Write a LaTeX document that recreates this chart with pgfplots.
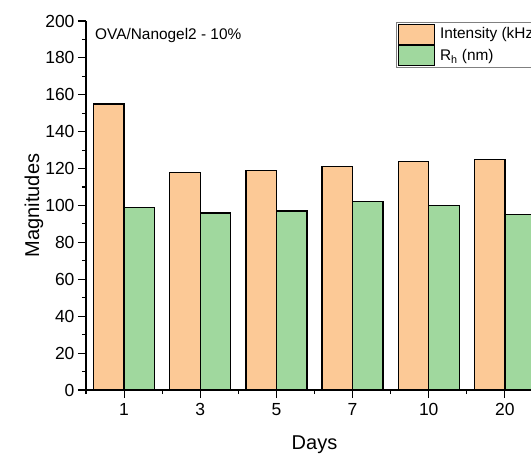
\documentclass[border=0pt]{standalone}
\usepackage{pgfplots}
\pgfplotsset{compat=1.18}
\usepackage{fontspec}
\setmainfont{Liberation Sans}

\definecolor{intensityfill}{RGB}{252,201,150}
\definecolor{rhfill}{RGB}{160,216,158}

\newcommand{\tickfont}{\fontsize{17.5bp}{21bp}\selectfont}
\newcommand{\labelfont}{\fontsize{20bp}{24bp}\selectfont}
\newcommand{\smallfont}{\fontsize{15.4bp}{18bp}\selectfont}

\begin{document}
\begin{tikzpicture}
\begin{axis}[
  name=ax,
  at={(0,0)}, anchor=south west,
  scale only axis,
  width=457bp, height=369bp,
  xmin=-0.5, xmax=5.5,
  ymin=0, ymax=200,
  axis x line*=bottom, axis y line*=left,
  axis line style={-, line width=1.1bp, black},
  xtick={0,1,2,3,4,5},
  xticklabels={1,3,5,7,10,20},
  minor xtick={-0.5,0.5,1.5,2.5,3.5,4.5,5.5},
  ytick={0,20,...,200},
  minor ytick={10,30,...,190},
  tick align=outside,
  major tick length=8bp,
  minor tick length=4bp,
  every tick/.style={black, line width=1.1bp},
  /pgf/number format/assume math mode=true,
  tick label style={font=\tickfont},
  x tick label style={yshift=-2bp},
  xlabel={Days},
  ylabel={Magnitudes},
  label style={font=\labelfont},
  x label style={at={(axis description cs:0.5,-0.1607)}, anchor=base},
  y label style={at={(axis description cs:-0.114,0.5)}, anchor=center},
  legend style={
    at={(rel axis cs:0.679,0.997)}, anchor=north west,
    draw=gray, line width=0.8bp,
    inner xsep=1bp, inner ysep=1bp,
    row sep=0pt,
    font=\smallfont,
    nodes={inner sep=0pt, text height=11.5bp, text depth=0pt},
    /tikz/every odd column/.append style={column sep=5bp},
  },
  legend cell align=left,
  area legend,
  legend image code/.code={
    \draw[#1, line width=1.3bp] (0bp,-11.05bp) rectangle (36bp,8.95bp);
  },
]
% intensity, left bar of each group
\addplot[ybar, bar width=0.4, bar shift=-0.2, fill=intensityfill, draw=black, line width=1.3bp]
  coordinates {(0,155) (1,118) (2,119) (3,121) (4,124) (5,125)};
\addlegendentry{Intensity (kHz)}
% hydrodynamic radius, right bar of each group
\addplot[ybar, bar width=0.4, bar shift=0.2, fill=rhfill, draw=black, line width=1.3bp]
  coordinates {(0,99) (1,96) (2,97) (3,102) (4,100) (5,95)};
\addlegendentry{R\textsubscript{h} (nm)}

\node[anchor=base west, inner sep=0pt, font=\smallfont]
  at (rel axis cs:0.0197,0.951) {OVA/Nanogel2 - 10\%};
\end{axis}
\pgfresetboundingbox
\path[use as bounding box] (-86bp,-65bp) rectangle (445bp,390bp);
\end{tikzpicture}
\end{document}
